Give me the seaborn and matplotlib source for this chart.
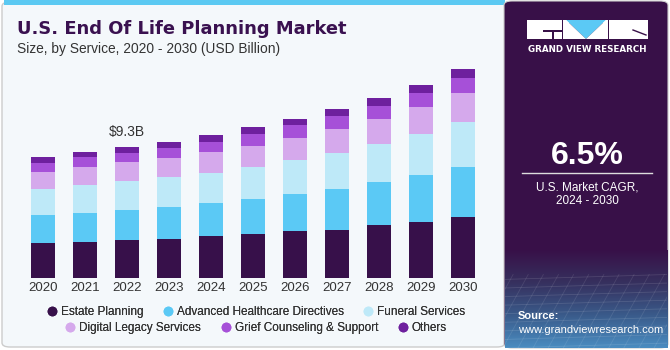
import numpy as np
import pandas as pd
import matplotlib
matplotlib.use("Agg")
import matplotlib.pyplot as plt
import seaborn as sns
from matplotlib.patches import FancyBboxPatch, Rectangle, Polygon
from matplotlib.lines import Line2D
from matplotlib.colors import LinearSegmentedColormap

# ---- data (USD Billion) ----
years = ["2020", "2021", "2022", "2023", "2024", "2025", "2026", "2027", "2028", "2029", "2030"]
services = ["Estate Planning", "Advanced Healthcare Directives", "Funeral Services",
            "Digital Legacy Services", "Grief Counseling & Support", "Others"]
estate_planning = [2.48, 2.56, 2.67, 2.79, 2.96, 3.12, 3.31, 3.43, 3.76, 4.00, 4.35]
advanced_healthcare = [1.99, 2.06, 2.15, 2.22, 2.37, 2.48, 2.67, 2.86, 3.08, 3.31, 3.50]
funeral_services = [1.85, 1.96, 2.04, 2.13, 2.15, 2.25, 2.39, 2.60, 2.65, 2.93, 3.22]
digital_legacy = [1.21, 1.28, 1.35, 1.37, 1.44, 1.51, 1.54, 1.70, 1.82, 1.92, 2.06]
grief_counseling = [0.62, 0.69, 0.69, 0.73, 0.76, 0.88, 0.92, 0.88, 0.92, 0.99, 1.09]
others = [0.43, 0.38, 0.40, 0.43, 0.45, 0.47, 0.45, 0.52, 0.54, 0.57, 0.62]
annot_year = "2022"
annot_label = "$9.3B"

colors = ["#37104A", "#5BC9F5", "#BEE9F8", "#D5A9EC", "#A650D8", "#6E209E"]

series = [estate_planning, advanced_healthcare, funeral_services,
          digital_legacy, grief_counseling, others]
df = pd.DataFrame({s: v for s, v in zip(services, series)}, index=years)
cum = df.cumsum(axis=1)

W, H = 670, 350
fig = plt.figure(figsize=(6.7, 3.5), dpi=100)
fig.patch.set_facecolor("white")

def px(x, y):
    return x / W, 1 - y / H

# left panel background
bg = FancyBboxPatch(px(2, 347), (505 - 2) / W, (347 - 2) / H,
                    boxstyle="round,pad=0,rounding_size=0.012",
                    transform=fig.transFigure, facecolor="#F4F8FB",
                    edgecolor="#CCCCCC", linewidth=1.0, zorder=0)
fig.patches.append(bg)
fig.patches.append(Rectangle(px(4, 5), (505 - 4) / W, 5 / H, transform=fig.transFigure,
                             facecolor="#5BC9F2", edgecolor="none", zorder=1))

# right panel
rp = FancyBboxPatch(px(504, 348), (668 - 504) / W, (348 - 1) / H,
                    boxstyle="round,pad=0,rounding_size=0.012",
                    transform=fig.transFigure, facecolor="#381048",
                    edgecolor="#CCCCCC", linewidth=0.8, zorder=2)
fig.patches.append(rp)

# gradient at bottom of right panel
gax = fig.add_axes([505 / W, 2 / H, (667 - 505) / W, (348 - 250) / H], zorder=3)
grad = np.linspace(0, 1, 100)[:, None] * np.ones((1, 10))
cmap = LinearSegmentedColormap.from_list("g", ["#381048", "#36305E", "#3A5A8A", "#4A8CC0"])
gax.imshow(grad, aspect="auto", cmap=cmap, origin="upper", extent=[0, 1, 0, 1])
for yy in np.linspace(0.0, 0.7, 9):
    gax.plot([0, 1], [yy, yy + 0.05], color="white", alpha=0.12, lw=0.6)
for xx in np.linspace(-0.2, 1.2, 16):
    gax.plot([xx, xx + 0.25], [0, 0.75], color="white", alpha=0.10, lw=0.6)
gax.set_xlim(0, 1); gax.set_ylim(0, 1)
gax.axis("off")

# logo
def frect(x0, y0, x1, y1, c):
    fig.patches.append(Rectangle(px(x0, y1), (x1 - x0) / W, (y1 - y0) / H,
                                 transform=fig.transFigure, facecolor=c,
                                 edgecolor="none", zorder=5))
frect(527, 20, 562, 39, "white")
frect(609, 20, 648, 39, "white")
frect(543, 30, 562, 32, "#381048")
frect(552, 30, 554, 39, "#381048")
frect(563, 20, 569, 39, "white")
frect(603, 20, 608, 39, "white")
fig.patches.append(Polygon([px(566, 20), px(606, 20), px(586, 39)], closed=True,
                           transform=fig.transFigure, facecolor="#5BC9F5",
                           edgecolor="none", zorder=6))
fig.patches.append(Polygon([px(563, 20), px(566, 20), px(586, 39), px(569, 39)], closed=True,
                           transform=fig.transFigure, facecolor="white", edgecolor="none", zorder=6))
fig.patches.append(Polygon([px(606, 20), px(608, 20), px(608, 39), px(586, 39)], closed=True,
                           transform=fig.transFigure, facecolor="white", edgecolor="none", zorder=6))
fig.add_artist(Line2D([633 / W, 646 / W], [1 - 30 / H, 1 - 35 / H], color="#381048", lw=1, zorder=7))

fig.text(*px(587, 50), "GRAND VIEW RESEARCH", color="white", fontsize=6.3,
         fontweight="bold", ha="center", va="center", family="DejaVu Sans", zorder=8)
fig.text(*px(587, 156), "6.5%", color="white", fontsize=23, fontweight="bold",
         ha="center", va="center", family="Liberation Sans", zorder=8)
fig.add_artist(Line2D([522 / W, 652 / W], [1 - 173 / H, 1 - 173 / H], color="#DDDDDD", lw=1, zorder=8))
fig.text(*px(587, 187), "U.S. Market CAGR,", color="white", fontsize=8.5,
         ha="center", va="center", family="Liberation Sans", zorder=8)
fig.text(*px(587, 201), "2024 - 2030", color="white", fontsize=8.5,
         ha="center", va="center", family="Liberation Sans", zorder=8)
fig.text(*px(518, 316), "Source:", color="white", fontsize=8, fontweight="bold",
         ha="left", va="center", family="Liberation Sans", zorder=8)
fig.text(*px(518, 330), "www.grandviewresearch.com", color="white", fontsize=8,
         ha="left", va="center", family="Liberation Sans", zorder=8)

# title
fig.text(*px(17, 29), "U.S. End Of Life Planning Market", color="#3A1150", fontsize=12.9,
         fontweight="bold", ha="left", va="center", family="DejaVu Sans", zorder=8)
fig.text(*px(17, 49), "Size, by Service, 2020 - 2030 (USD Billion)", color="#333333",
         fontsize=9.9, ha="left", va="center", family="Liberation Sans", zorder=8)

# main axes
ax = fig.add_axes([22 / W, 72 / H, 462 / W, 225.5 / H], zorder=4)
ax.patch.set_alpha(0)
for i in range(len(services) - 1, -1, -1):
    d = pd.DataFrame({"year": years, "val": cum.iloc[:, i].values})
    sns.barplot(data=d, x="year", y="val", order=years, color=colors[i],
                saturation=1, width=24 / 42, errorbar=None, ax=ax, linewidth=0)
ax.set_xlim(-0.5, len(years) - 0.5)
ax.set_ylim(0, 16)
for s in ax.spines.values():
    s.set_visible(False)
ax.set_yticks([])
ax.set_xlabel(""); ax.set_ylabel("")
ax.tick_params(axis="x", length=0, pad=3, labelsize=9.5, labelcolor="#333333")
for lab in ax.get_xticklabels():
    lab.set_family("Liberation Sans")
ai = years.index(annot_year)
ax.text(ai, cum.iloc[ai, -1] + 1.04, annot_label, ha="center", va="center",
        fontsize=10, color="#333333", family="Liberation Sans")

# legend in two centered rows
def mk(c):
    return Line2D([], [], marker="o", linestyle="none", markersize=7,
                  markerfacecolor=c, markeredgecolor="none")
for row, yy in ((0, 312), (1, 328)):
    idx = range(row * 3, row * 3 + 3)
    leg = fig.legend([mk(colors[i]) for i in idx], [services[i] for i in idx],
                     loc="center", bbox_to_anchor=px(255, yy), ncol=3, frameon=False,
                     prop={"family": "Liberation Sans", "size": 8.5},
                     handletextpad=0.15, columnspacing=1.5, handlelength=1.2,
                     borderaxespad=0, borderpad=0)
    for t in leg.get_texts():
        t.set_color("#333333")
    fig.add_artist(leg)

fig.savefig("out.png", dpi=100, facecolor="white")
